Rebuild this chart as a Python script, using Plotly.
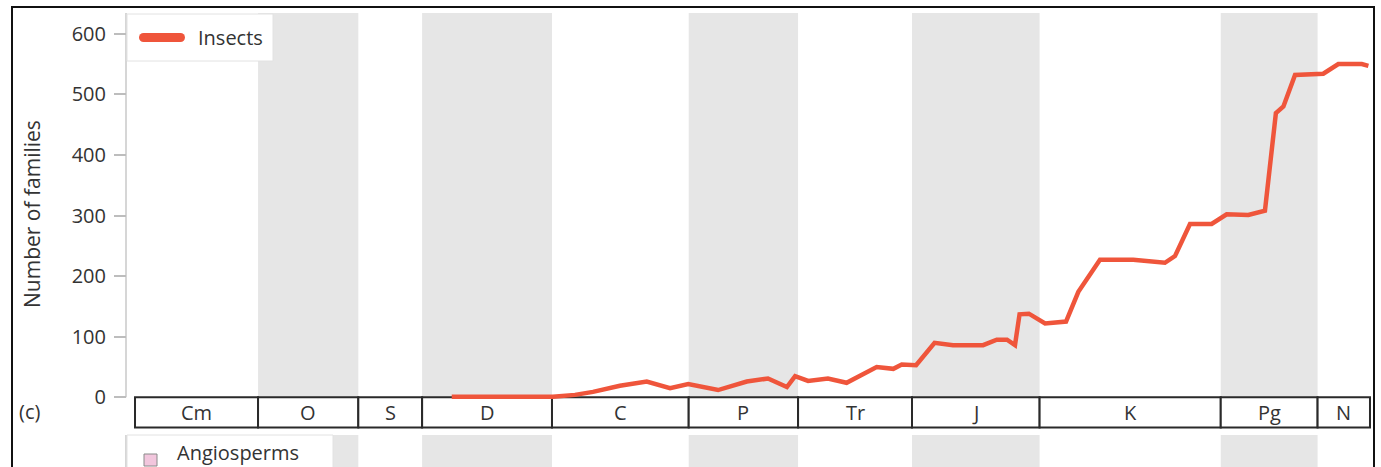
import plotly.graph_objects as go

# Geological periods (boundaries in Ma, oldest first)
periods = ["Cm", "O", "S", "D", "C", "P", "Tr", "J", "K", "Pg", "N"]
period_start = [542, 488, 444, 416, 359, 299, 251, 201, 145, 65.5, 23]
period_end = [488, 444, 416, 359, 299, 251, 201, 145, 65.5, 23, 0]
shaded = ["O", "D", "P", "J", "Pg"]

# Insect family diversity through time
age_ma = [403, 358.6, 348.9, 341.0, 329.2, 317.4, 307.2, 299.2, 286.1, 273.5,
          264.2, 255.9, 252.3, 246.6, 237.9, 229.7, 216.5, 209.2, 205.5, 199.2,
          191.1, 183.0, 169.8, 163.8, 159.3, 155.8, 153.8, 149.7, 142.6, 133.4,
          128.0, 118.5, 103.9, 93.5, 90.0, 85.6, 79.0, 69.5, 62.9, 53.4,
          46.1, 41.3, 38.0, 32.9, 20.5, 13.9, 3.6, 0.7]
insect_families = [1, 1, 4, 9, 19, 26, 15, 22, 12, 26,
                   31, 17, 35, 27, 31, 24, 50, 47, 54, 53,
                   90, 86, 86, 95, 95, 86, 137, 138, 122, 125,
                   174, 227, 227, 222, 222, 233, 286, 286, 302, 301,
                   308, 469, 480, 532, 534, 550, 550, 547]

y_ticks = [0, 100, 200, 300, 400, 500, 600]

W, H = 1381, 467
FONT = "Open Sans"
TXT = "#333333"
RED = "#EF553B"
BAND = "#e6e6e6"


def px(xp):
    return xp / W


def py(yp):
    return 1 - yp / H


fig = go.Figure()
fig.add_trace(go.Scatter(
    x=age_ma, y=insect_families, mode="lines",
    line=dict(color=RED, width=4.5, shape="linear"),
    name="Insects", showlegend=False, hoverinfo="skip",
))

shapes = []
annotations = []

top_val = 634
scale_depth = -49.8

# alternating period bands, upper and lower panel
for name, s, e in zip(periods, period_start, period_end):
    if name in shaded:
        shapes.append(dict(type="rect", xref="x", yref="y", x0=s, x1=e,
                           y0=0, y1=top_val, fillcolor=BAND, line_width=0,
                           layer="below"))
        shapes.append(dict(type="rect", xref="x", yref="paper", x0=s, x1=e,
                           y0=-0.05, y1=py(435), fillcolor=BAND, line_width=0,
                           layer="below"))

# time-scale bar
for name, s, e in zip(periods, period_start, period_end):
    shapes.append(dict(type="rect", xref="x", yref="y", x0=s, x1=e,
                       y0=scale_depth, y1=0, fillcolor="white",
                       line=dict(color="#2a2a2a", width=2), layer="below"))
    annotations.append(dict(x=(s + e) / 2, y=scale_depth / 2, xref="x", yref="y",
                            text=name, showarrow=False,
                            xanchor="center", yanchor="middle",
                            font=dict(family=FONT, size=20, color=TXT)))

# y axis lines
shapes.append(dict(type="line", xref="paper", yref="y", x0=px(126), x1=px(126),
                   y0=0, y1=top_val, line=dict(color="#c8c8c8", width=1.5),
                   layer="below"))
shapes.append(dict(type="line", xref="paper", yref="paper", x0=px(126), x1=px(126),
                   y0=-0.05, y1=py(435), line=dict(color="#c8c8c8", width=1.5),
                   layer="below"))

# legend, upper panel
shapes.append(dict(type="rect", xref="paper", yref="paper", x0=px(127), x1=px(273),
                   y0=py(61), y1=py(14), fillcolor="white",
                   line=dict(color="#e2e2e2", width=1), layer="above"))
shapes.append(dict(type="line", xref="paper", yref="paper", x0=px(143.5), x1=px(180.5),
                   y0=py(37.5), y1=py(37.5), line=dict(color=RED, width=9),
                   layer="above"))
for cx in (143.5, 180.5):
    shapes.append(dict(type="circle", xref="paper", yref="paper",
                       x0=px(cx - 4.5), x1=px(cx + 4.5), y0=py(42), y1=py(33),
                       fillcolor=RED, line_width=0, layer="above"))
annotations.append(dict(x=px(196), y=py(37.5), xref="paper", yref="paper",
                        text="Insects", showarrow=False, xanchor="left",
                        yanchor="middle",
                        font=dict(family=FONT, size=20, color=TXT)))

# legend, lower panel
shapes.append(dict(type="rect", xref="paper", yref="paper", x0=px(127), x1=px(333),
                   y0=-0.1, y1=py(435), fillcolor="white",
                   line=dict(color="#e2e2e2", width=1), layer="above"))
shapes.append(dict(type="rect", xref="paper", yref="paper", x0=px(144), x1=px(157),
                   y0=py(466), y1=py(454), fillcolor="#f2c6dd",
                   line=dict(color="#8a8a8a", width=1), layer="above"))
annotations.append(dict(x=px(176), y=0, xref="paper", yref="paper",
                        text="Angiosperms", showarrow=False, xanchor="left",
                        yanchor="bottom", borderpad=0,
                        font=dict(family=FONT, size=20, color=TXT)))

# axis title and panel label
annotations.append(dict(x=px(32), y=py(214), xref="paper", yref="paper",
                        text="Number of families", showarrow=False, textangle=-90,
                        xanchor="center", yanchor="middle",
                        font=dict(family=FONT, size=21, color=TXT)))
annotations.append(dict(x=px(29), y=py(411), xref="paper", yref="paper",
                        text="(c)", showarrow=False,
                        xanchor="center", yanchor="middle",
                        font=dict(family=FONT, size=20, color=TXT)))

# outer frame
shapes.append(dict(type="rect", xref="paper", yref="paper", x0=px(12), x1=px(1374),
                   y0=-0.1, y1=py(7), line=dict(color="#111111", width=2),
                   layer="above"))

x_lo = 601.25
x_hi = -4.83
y_lo, y_hi = -115.0, 655.6

fig.update_layout(
    width=W, height=H,
    margin=dict(l=0, r=0, t=0, b=0),
    paper_bgcolor="white", plot_bgcolor="rgba(0,0,0,0)",
    showlegend=False,
    xaxis=dict(domain=[0, 1], range=[x_lo, x_hi], visible=False, fixedrange=True),
    yaxis=dict(domain=[0, 1], range=[y_lo, y_hi], anchor="free", position=px(126),
               side="left", tickvals=y_ticks, ticks="outside", ticklen=12,
               tickcolor="#bdbdbd", tickwidth=1.5, showgrid=False, zeroline=False,
               showline=False, ticklabelstandoff=4,
               tickfont=dict(family=FONT, size=20, color=TXT)),
    yaxis2=dict(domain=[0, 1], range=[174.8, 945.4], overlaying="y", anchor="free",
                position=px(126), side="left", tickvals=[200], ticks="outside",
                ticklen=12, tickcolor="#bdbdbd", tickwidth=1.5, showgrid=False,
                zeroline=False, showline=False, ticklabelstandoff=4,
                tickfont=dict(family=FONT, size=20, color=TXT)),
    shapes=shapes,
    annotations=annotations,
)

fig.write_html("out.html")
